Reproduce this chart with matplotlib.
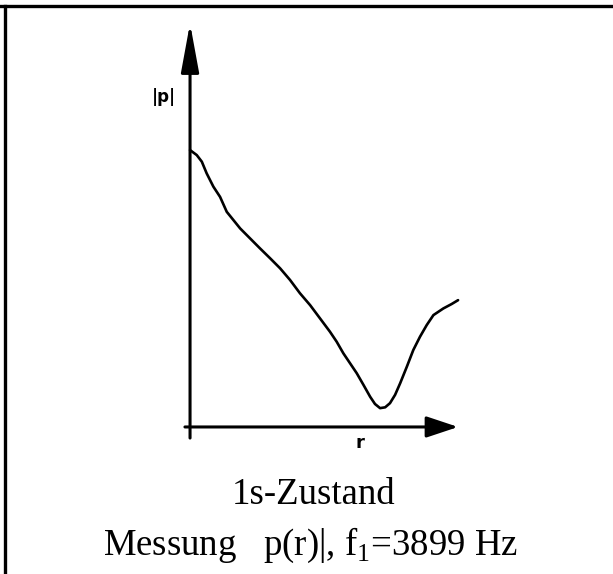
import matplotlib.pyplot as plt
from matplotlib.lines import Line2D

# measured |p| along r (arbitrary units)
r = [0.0, 0.25, 0.44, 0.62, 0.87, 1.12, 1.37, 1.62, 1.87, 2.24, 2.61,
     2.99, 3.36, 3.73, 4.10, 4.48, 4.85, 5.22, 5.47, 5.72, 5.97, 6.22,
     6.47, 6.72, 6.90, 7.09, 7.28, 7.46, 7.65, 7.84, 8.09, 8.33, 8.58,
     8.83, 9.08, 9.45, 9.76, 10.0]
p = [10.0, 9.82, 9.58, 9.16, 8.68, 8.31, 7.77, 7.47, 7.17, 6.81, 6.45,
     6.09, 5.73, 5.31, 4.83, 4.40, 3.92, 3.44, 3.08, 2.66, 2.30, 1.94,
     1.52, 1.09, 0.83, 0.68, 0.71, 0.86, 1.16, 1.58, 2.18, 2.78, 3.26,
     3.68, 4.04, 4.28, 4.44, 4.58]

title1 = "1s-Zustand"
title2 = "Messung   p(r)|, f$_1$=3899 Hz"

plt.rcParams['mathtext.fontset'] = 'custom'
plt.rcParams['mathtext.rm'] = 'Liberation Serif'

fig = plt.figure(figsize=(6.13, 5.74), dpi=100)
ax = fig.add_axes([0, 0, 1, 1])
ax.set_xlim(-7.09, 15.78)
ax.set_ylim(-5.31, 15.42)
ax.axis('off')

# frame lines at top and left
fig.add_artist(Line2D([0, 1], [0.9895, 0.9895], color='black', lw=2.4,
                      transform=fig.transFigure))
fig.add_artist(Line2D([0.0075, 0.0075], [0, 0.9895], color='black', lw=2.4,
                      transform=fig.transFigure))

# axes with arrow heads
ax.annotate('', xy=(0, 14.58), xytext=(0, -0.40),
            arrowprops=dict(arrowstyle='-|>,head_length=3.0,head_width=0.55',
                            lw=2.2, color='black', shrinkA=0, shrinkB=0))
ax.annotate('', xy=(10.0, 0), xytext=(-0.19, 0),
            arrowprops=dict(arrowstyle='-|>,head_length=1.95,head_width=0.65',
                            lw=2.2, color='black', shrinkA=0, shrinkB=0))

ax.plot(r, p, color='black', lw=1.9, solid_joinstyle='round',
        solid_capstyle='round')

ax.text(-0.97, 11.9, '|p|', family='Liberation Sans Narrow', fontsize=12,
        fontweight='bold', ha='center', va='center')
ax.text(6.34, -0.58, 'r', family='Liberation Sans Narrow', fontsize=13,
        fontweight='bold', ha='center', va='center')

fig.text(0.511, 0.1376, title1, family='Liberation Serif', fontsize=26.5,
         ha='center', va='center')
fig.text(0.507, 0.0505, title2, family='Liberation Serif', fontsize=26.5,
         ha='center', va='center')

fig.savefig('out.png', dpi=100)
